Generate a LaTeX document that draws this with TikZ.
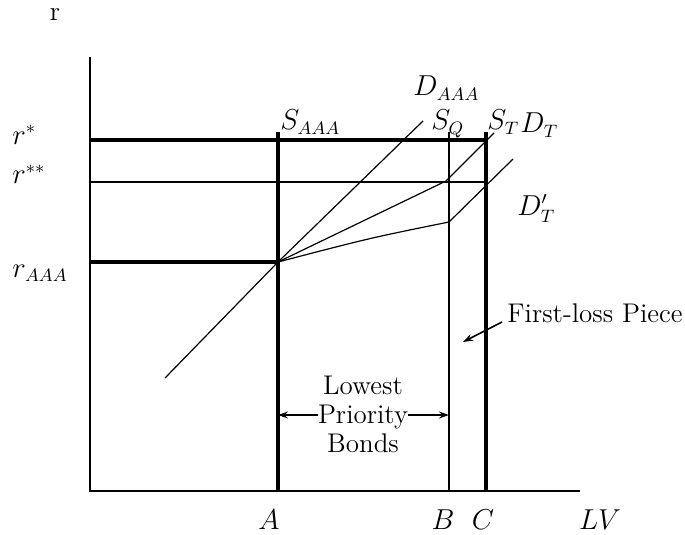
\documentclass[tikz,border=0pt]{standalone}
\usetikzlibrary{arrows.meta}
\begin{document}
\begin{tikzpicture}[x=0.5pt,y=-0.5pt,
  thickln/.style={line width=1.8pt},
  thinln/.style={line width=1pt},
  curve/.style={line width=0.6pt},
  lbl/.style={inner sep=0pt,font=\fontsize{13.5}{14.5}\selectfont},
  arr/.style={line width=0.8pt,-{Stealth[length=5pt,width=3.5pt]}}]
\useasboundingbox (0,0) rectangle (685,535);
% points
\coordinate (O) at (90,491);
\coordinate (Ytop) at (90,57);
\coordinate (Xend) at (580,491);
\coordinate (P) at (278,262);
\coordinate (YA) at (90,262);
\coordinate (Ys) at (90,140);
\coordinate (Yss) at (90,182);
\coordinate (Ts) at (486,140);
\coordinate (Tss) at (486,182);
\coordinate (SAt) at (278,132);
\coordinate (SAb) at (278,491);
\coordinate (SQt) at (449,132);
\coordinate (SQb) at (449,491);
\coordinate (STt) at (486,132);
\coordinate (STb) at (486,491);
\coordinate (D1a) at (165,378);
\coordinate (D1b) at (423,121);
\coordinate (DTk) at (446,181);
\coordinate (DTe) at (494,133);
\coordinate (DPk) at (449,222);
\coordinate (DPe) at (513,159);
% axes
\draw[thinln] (Ytop) -- (O) -- (Xend);
% horizontal lines
\draw[thickln] (Ys) -- (Ts);
\draw[thinln] (Yss) -- (Tss);
\draw[thickln] (YA) -- (P);
% vertical lines
\draw[thickln] (SAt) -- (SAb);
\draw[thinln] (SQt) -- (SQb);
\draw[thickln] (STt) -- (STb);
% demand curves
\draw[curve] (D1a) -- (P) -- (D1b);
\draw[curve] (P) -- (DTk) -- (DTe);
\draw[curve] (P) .. controls (370,238) .. (DPk) -- (DPe);
% labels
\node[lbl] (lr) at (55,15) {r};
\node[lbl,anchor=base west] (lrs) at (12,144) {$r^*$};
\node[lbl,anchor=base west] (lrss) at (12,184) {$r^{**}$};
\node[lbl,anchor=base west] (lraaa) at (12,277) {$r_{AAA}$};
\node[lbl,anchor=base west] (lsaaa) at (280,130) {$S_{AAA}$};
\node[lbl,anchor=base west] (ldaaa) at (413,96) {$D_{AAA}$};
\node[lbl,anchor=base west] (lsq) at (431,130) {$S_Q$};
\node[lbl,anchor=base west] (lst) at (487,130) {$S_T$};
\node[lbl,anchor=base west] (ldt) at (520,133) {$D_T$};
\node[lbl,anchor=base west] (ldpt) at (517,215) {$D'_T$};
\node[lbl,anchor=base] (la) at (269,529) {$A$};
\node[lbl,anchor=base] (lb) at (443,529) {$B$};
\node[lbl,anchor=base] (lc) at (483,529) {$C$};
\node[lbl,anchor=base] (llv) at (600,529) {$LV$};
\node[lbl,align=center] (lpb) at (363,414) {Lowest\\Priority\\Bonds};
\node[lbl] (lfl) at (595,313) {First-loss Piece};
\coordinate (fla) at (502,322);
\coordinate (flb) at (463,342);
\draw[arr] (fla) -- (flb);
\draw[arr] (lpb.west |- 0,415) -- (SAb |- 0,415);
\draw[arr] (lpb.east |- 0,415) -- (SQb |- 0,415);
\end{tikzpicture}
\end{document}
